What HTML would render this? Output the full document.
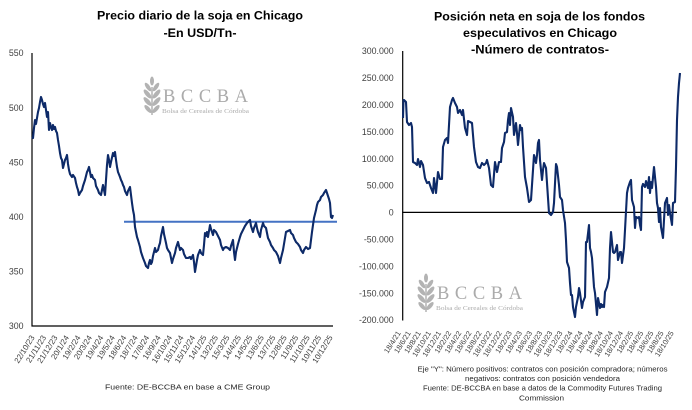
<!DOCTYPE html>
<html><head><meta charset="utf-8"><style>
html,body{margin:0;padding:0;background:#fff;}
svg{display:block;}
text{font-family:"Liberation Sans",Arial,sans-serif;}
.yl{font-size:8.8px;fill:#404040;text-anchor:end;}
.xl{font-size:8px;fill:#404040;text-anchor:end;}
.xr{font-size:7.4px;fill:#404040;text-anchor:end;}
.t{font-size:11.5px;font-weight:bold;fill:#000;text-anchor:middle;}
.f{font-size:7.4px;fill:#262626;text-anchor:middle;}
.s{font-family:"Liberation Serif",serif;fill:#ababab;}
</style></head><body>
<svg width="692" height="410" viewBox="0 0 692 410" xmlns="http://www.w3.org/2000/svg">
<rect width="692" height="410" fill="#fff"/>
<defs>
<g id="logo">
 <g fill="#b3b3b3">
  <line x1="9" y1="10" x2="9" y2="38" stroke="#b3b3b3" stroke-width="1.5"/>
  <ellipse cx="9" cy="4" rx="2" ry="4.5"/>
  <ellipse cx="5" cy="10" rx="2" ry="5" transform="rotate(-35 5 10)"/>
  <ellipse cx="13" cy="10" rx="2" ry="5" transform="rotate(35 13 10)"/>
  <ellipse cx="4.5" cy="17" rx="2.2" ry="5.5" transform="rotate(-40 4.5 17)"/>
  <ellipse cx="13.5" cy="17" rx="2.2" ry="5.5" transform="rotate(40 13.5 17)"/>
  <ellipse cx="4.5" cy="24.5" rx="2.2" ry="5.5" transform="rotate(-42 4.5 24.5)"/>
  <ellipse cx="13.5" cy="24.5" rx="2.2" ry="5.5" transform="rotate(42 13.5 24.5)"/>
  <ellipse cx="5" cy="32" rx="2" ry="5" transform="rotate(-42 5 32)"/>
  <ellipse cx="13" cy="32" rx="2" ry="5" transform="rotate(42 13 32)"/>
 </g>
 <text class="s" x="20" y="25" font-size="18.5" textLength="85" lengthAdjust="spacing">BCCBA</text>
 <text class="s" x="19" y="36" font-size="6.6" textLength="87" lengthAdjust="spacingAndGlyphs">Bolsa de Cereales de Córdoba</text>
</g>
</defs>

<!-- LEFT CHART -->
<text class="t" x="200" y="19.5" textLength="206" lengthAdjust="spacingAndGlyphs">Precio diario de la soja en Chicago</text>
<text class="t" x="200" y="37" textLength="73" lengthAdjust="spacingAndGlyphs">-En USD/Tn-</text>

<use href="#logo" x="143" y="77"/>

<g>
<text class="yl" x="23.5" y="56.2">550</text>
<text class="yl" x="23.5" y="110.8">500</text>
<text class="yl" x="23.5" y="165.4">450</text>
<text class="yl" x="23.5" y="220">400</text>
<text class="yl" x="23.5" y="274.6">350</text>
<text class="yl" x="23.5" y="329.2">300</text>
</g>
<line x1="32" y1="53" x2="32" y2="326.5" stroke="#000" stroke-width="1.2"/>
<line x1="31.5" y1="326" x2="333" y2="326" stroke="#000" stroke-width="1.2"/>
<line x1="124" y1="221.7" x2="337" y2="221.7" stroke="#4472C4" stroke-width="2"/>

<polyline fill="none" stroke="#0d2a68" stroke-width="2.1" stroke-linejoin="round" points="32,137 33,138 34,128 35,120 36,124 37,118 38,112 39,108 40,102 41,97 42,100 43,104 44,107 45,103 46,110 47,117 48,112 49,130 50,123 51,127 52,130 53,125 54,129 55,127 56,131 57,133 58,140 59,146 60,153 61,158 62,160 63,168 64,164 65,160 66,158 67,155 68,164 69,170 70,174 72,177 73,175 75,178 76,183 77,187 78,190 79,195 80,193 82,190 83,186 85,180 86,176 87,172 88,170 89,167 90,172 91,177 92,175 93,178 95,180 96,186 98,190 99,193 101,195 102,190 103,185 104,190 105,195 106,180 107,165 108,155 109,160 110,167 111,162 113,153 114,156 115,152 116,160 117,167 118,172 120,177 121,180 122,182 123,185 124,187 125,191 127,195 128,191 130,187 131,195 132,203 133,210 134,215 135,227 136,232 137,237 138,240 140,247 141,252 142,255 143,258 145,263 146,266 148,268 149,263 150,260 151,264 152,262 153,256 155,248 156,252 158,250 159,246 160,243 161,236 163,227 164,234 166,243 167,248 168,250 170,253 171,258 172,263 173,259 175,253 176,248 178,242 179,246 180,250 181,248 183,250 184,254 186,258 188,258 190,257 191,259 193,255 194,262 195,272 196,266 197,260 198,255 200,250 201,253 203,255 204,245 205,233 206,236 207,232 208,237 209,231 210,225 211,229 213,235 214,230 216,232 218,236 220,240 221,245 223,250 224,248 226,247 228,248 230,250 231,246 233,240 234,252 235,260 236,252 238,244 240,237 241,234 243,230 244,228 245,226 247,223 248,222 250,220 251,226 253,232 254,228 256,223 257,228 258,232 260,237 261,230 263,223 264,226 266,228 267,233 268,238 270,242 271,245 273,248 274,250 276,252 278,256 280,263 281,258 283,250 284,244 286,232 288,231 290,230 291,233 293,235 294,238 296,242 298,244 300,247 301,250 303,253 304,250 306,247 308,249 310,248 311,240 312,232 313,225 314,218 316,210 317,205 318,202 320,200 321,197 323,195 324,193 326,190 327,193 328,196 329,199 330,203 331,217 332,218 333,215"/>

<g>
<text class="xl" transform="translate(35,337.5) rotate(-58)">22/10/23</text>
<text class="xl" transform="translate(46.46,337.5) rotate(-58)">21/11/23</text>
<text class="xl" transform="translate(57.92,337.5) rotate(-58)">21/12/23</text>
<text class="xl" transform="translate(69.38,337.5) rotate(-58)">20/1/24</text>
<text class="xl" transform="translate(80.85,337.5) rotate(-58)">19/2/24</text>
<text class="xl" transform="translate(92.31,337.5) rotate(-58)">20/3/24</text>
<text class="xl" transform="translate(103.77,337.5) rotate(-58)">19/4/24</text>
<text class="xl" transform="translate(115.23,337.5) rotate(-58)">19/5/24</text>
<text class="xl" transform="translate(126.69,337.5) rotate(-58)">18/6/24</text>
<text class="xl" transform="translate(138.15,337.5) rotate(-58)">18/7/24</text>
<text class="xl" transform="translate(149.62,337.5) rotate(-58)">17/8/24</text>
<text class="xl" transform="translate(161.08,337.5) rotate(-58)">16/9/24</text>
<text class="xl" transform="translate(172.54,337.5) rotate(-58)">16/10/24</text>
<text class="xl" transform="translate(184,337.5) rotate(-58)">15/11/24</text>
<text class="xl" transform="translate(195.46,337.5) rotate(-58)">15/12/24</text>
<text class="xl" transform="translate(206.92,337.5) rotate(-58)">14/1/25</text>
<text class="xl" transform="translate(218.38,337.5) rotate(-58)">13/2/25</text>
<text class="xl" transform="translate(229.85,337.5) rotate(-58)">15/3/25</text>
<text class="xl" transform="translate(241.31,337.5) rotate(-58)">14/4/25</text>
<text class="xl" transform="translate(252.77,337.5) rotate(-58)">14/5/25</text>
<text class="xl" transform="translate(264.23,337.5) rotate(-58)">13/6/25</text>
<text class="xl" transform="translate(275.69,337.5) rotate(-58)">13/7/25</text>
<text class="xl" transform="translate(287.15,337.5) rotate(-58)">12/8/25</text>
<text class="xl" transform="translate(298.62,337.5) rotate(-58)">11/9/25</text>
<text class="xl" transform="translate(310.08,337.5) rotate(-58)">11/10/25</text>
<text class="xl" transform="translate(321.54,337.5) rotate(-58)">10/11/25</text>
<text class="xl" transform="translate(333,337.5) rotate(-58)">10/12/25</text>
</g>

<text class="f" x="187.5" y="389.5" textLength="165" lengthAdjust="spacingAndGlyphs">Fuente: DE-BCCBA en base a CME Group</text>

<!-- RIGHT CHART -->
<text class="t" x="539.5" y="20.5" textLength="211" lengthAdjust="spacingAndGlyphs">Posición neta en soja de los fondos</text>
<text class="t" x="540" y="37" textLength="154" lengthAdjust="spacingAndGlyphs">especulativos en Chicago</text>
<text class="t" x="540" y="53.5" textLength="138" lengthAdjust="spacingAndGlyphs">-Número de contratos-</text>

<use href="#logo" x="417" y="274"/>

<g>
<text class="yl" x="393.7" y="54.2">300.000</text>
<text class="yl" x="393.7" y="81.1">250.000</text>
<text class="yl" x="393.7" y="108">200.000</text>
<text class="yl" x="393.7" y="134.9">150.000</text>
<text class="yl" x="393.7" y="161.8">100.000</text>
<text class="yl" x="393.7" y="188.7">50.000</text>
<text class="yl" x="393.7" y="215.6">0</text>
<text class="yl" x="393.7" y="242.5">-50.000</text>
<text class="yl" x="393.7" y="269.4">-100.000</text>
<text class="yl" x="393.7" y="296.3">-150.000</text>
<text class="yl" x="393.7" y="323.2">-200.000</text>
</g>
<line x1="402.7" y1="51" x2="402.7" y2="320.5" stroke="#000" stroke-width="1.2"/>
<line x1="402.2" y1="212.4" x2="677" y2="212.4" stroke="#000" stroke-width="1.2"/>

<polyline fill="none" stroke="#0d2a68" stroke-width="2.1" stroke-linejoin="round" points="403,118 403.5,100 404,100 406,102 407,122 409,125 411,123 412,127 413,162 415,163 417,165 418,159 420,167 421,161 423,165 425,178 427,183 429,182 431,188 433,193 434,178 436,193 438,172 440,179 442,179 443,147 445,140 447,138 448,143 450,107 452,100 453,98 455,103 457,107 458,113 460,110 462,115 463,110 465,128 467,135 468,121 470,122 472,123 474,147 476,162 478,167 480,168 482,163 484,165 486,163 487,160 489,168 491,185 493,187 495,162 497,172 499,162 501,162 502,148 504,142 505,133 507,132 508,120 509,113 510,125 511,108 513,117 514,135 516,123 517,133 518,145 520,125 521,130 522,128 523,147 525,177 527,188 529,202 531,200 533,170 534,155 536,163 537,155 538,143 539,140 540,160 542,180 543,170 544,163 546,168 547,183 549,213 551,215 553,212 554,203 556,164 557,167 559,185 560,197 562,200 563,210 565,223 566,240 567,262 569,268 570,283 571,295 572,295 573,307 575,317 576,307 578,297 579,288 580,293 582,308 583,302 585,297 586,242 587,242 589,225 590,248 591,252 592,258 594,287 595,293 597,315 598,298 600,308 601,304 602,307 603,305 604,307 605,292 607,287 609,278 610,248 611,232 613,252 614,253 615,252 617,245 618,260 620,252 621,252 622,263 624,248 625,230 627,193 628,188 630,182 631,180 632,200 634,207 635,228 636,217 638,218 639,217 640,225 641,230 642,187 643,184 645,187 646,181 648,188 649,177 650,193 651,182 652,188 654,167 656,187 657,203 658,208 659,222 660,208 661,227 663,238 664,220 665,203 667,198 668,215 669,205 670,213 672,225 673,203 675,202 676,167 677,120 678,97 679,83 680,73"/>

<g>
<text class="xr" transform="translate(401,333) rotate(-58)">18/4/21</text>
<text class="xr" transform="translate(411.11,333) rotate(-58)">18/6/21</text>
<text class="xr" transform="translate(421.22,333) rotate(-58)">18/8/21</text>
<text class="xr" transform="translate(431.33,333) rotate(-58)">18/10/21</text>
<text class="xr" transform="translate(441.44,333) rotate(-58)">18/12/21</text>
<text class="xr" transform="translate(451.56,333) rotate(-58)">18/2/22</text>
<text class="xr" transform="translate(461.67,333) rotate(-58)">18/4/22</text>
<text class="xr" transform="translate(471.78,333) rotate(-58)">18/6/22</text>
<text class="xr" transform="translate(481.89,333) rotate(-58)">18/8/22</text>
<text class="xr" transform="translate(492,333) rotate(-58)">18/10/22</text>
<text class="xr" transform="translate(502.11,333) rotate(-58)">18/12/22</text>
<text class="xr" transform="translate(512.22,333) rotate(-58)">18/2/23</text>
<text class="xr" transform="translate(522.33,333) rotate(-58)">18/4/23</text>
<text class="xr" transform="translate(532.44,333) rotate(-58)">18/6/23</text>
<text class="xr" transform="translate(542.56,333) rotate(-58)">18/8/23</text>
<text class="xr" transform="translate(552.67,333) rotate(-58)">18/10/23</text>
<text class="xr" transform="translate(562.78,333) rotate(-58)">18/12/23</text>
<text class="xr" transform="translate(572.89,333) rotate(-58)">18/2/24</text>
<text class="xr" transform="translate(583,333) rotate(-58)">18/4/24</text>
<text class="xr" transform="translate(593.11,333) rotate(-58)">18/6/24</text>
<text class="xr" transform="translate(603.22,333) rotate(-58)">18/8/24</text>
<text class="xr" transform="translate(613.33,333) rotate(-58)">18/10/24</text>
<text class="xr" transform="translate(623.44,333) rotate(-58)">18/12/24</text>
<text class="xr" transform="translate(633.56,333) rotate(-58)">18/2/25</text>
<text class="xr" transform="translate(643.67,333) rotate(-58)">18/4/25</text>
<text class="xr" transform="translate(653.78,333) rotate(-58)">18/6/25</text>
<text class="xr" transform="translate(663.89,333) rotate(-58)">18/8/25</text>
<text class="xr" transform="translate(674,333) rotate(-58)">18/10/25</text>
</g>

<text class="f" x="542.5" y="371.5" textLength="250" lengthAdjust="spacingAndGlyphs">Eje "Y": Número positivos: contratos con posición compradora; números</text>
<text class="f" x="542.5" y="381" textLength="155" lengthAdjust="spacingAndGlyphs">negativos: contratos con posición vendedora</text>
<text class="f" x="542.5" y="390.5" textLength="239" lengthAdjust="spacingAndGlyphs">Fuente: DE-BCCBA en base a datos de la Commodity Futures Trading</text>
<text class="f" x="541.5" y="400.5" textLength="45" lengthAdjust="spacingAndGlyphs">Commission</text>
</svg>
</body></html>
